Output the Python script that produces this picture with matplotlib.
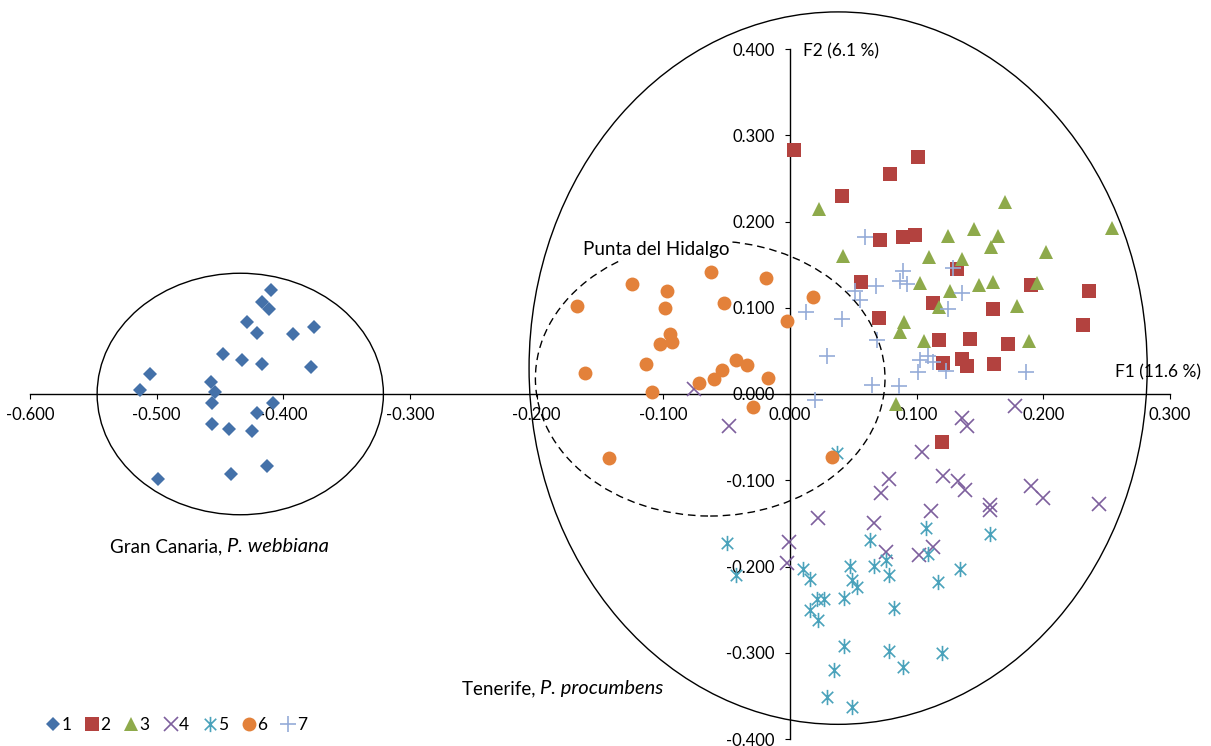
import matplotlib
matplotlib.use("Agg")
import matplotlib.pyplot as plt
from matplotlib.patches import Ellipse
from matplotlib.path import Path

plt.rcParams['font.family'] = ['Lato', 'DejaVu Sans']

# PCA scores (F1, F2) per group
f1_g1 = [-0.410, -0.417, -0.411, -0.429, -0.421, -0.392, -0.376, -0.448, -0.433, -0.417, -0.378, -0.505,
         -0.513, -0.457, -0.454, -0.456, -0.408, -0.421, -0.456, -0.443, -0.425, -0.413, -0.441, -0.499]
f2_g1 = [0.121, 0.107, 0.098, 0.083, 0.071, 0.070, 0.078, 0.046, 0.039, 0.035, 0.031, 0.023,
         0.005, 0.014, 0.002, -0.010, -0.011, -0.022, -0.035, -0.041, -0.043, -0.084, -0.093, -0.098]

f1_g2 = [0.003, 0.101, 0.079, 0.041, 0.071, 0.089, 0.099, 0.132, 0.190, 0.236, 0.056, 0.113,
         0.160, 0.070, 0.118, 0.142, 0.172, 0.231, 0.121, 0.136, 0.140, 0.161, 0.120]
f2_g2 = [0.283, 0.275, 0.255, 0.229, 0.179, 0.182, 0.184, 0.145, 0.126, 0.120, 0.130, 0.105,
         0.098, 0.088, 0.063, 0.064, 0.058, 0.080, 0.036, 0.041, 0.032, 0.035, -0.056]

f1_g3 = [0.170, 0.023, 0.145, 0.125, 0.164, 0.254, 0.202, 0.159, 0.042, 0.110, 0.136, 0.103,
         0.149, 0.160, 0.195, 0.126, 0.118, 0.179, 0.090, 0.087, 0.106, 0.189, 0.084]
f2_g3 = [0.223, 0.214, 0.191, 0.183, 0.183, 0.193, 0.165, 0.170, 0.160, 0.159, 0.156, 0.129,
         0.126, 0.130, 0.129, 0.119, 0.101, 0.102, 0.084, 0.072, 0.061, 0.062, -0.012]

f1_g4 = [-0.076, -0.048, 0.104, 0.078, 0.072, 0.022, 0.066, -0.001, -0.002, 0.076, 0.102, 0.113,
         0.178, 0.136, 0.140, 0.121, 0.133, 0.138, 0.190, 0.200, 0.244, 0.158, 0.158, 0.111]
f2_g4 = [0.006, -0.037, -0.067, -0.098, -0.115, -0.144, -0.149, -0.172, -0.196, -0.183, -0.187, -0.177,
         -0.014, -0.028, -0.037, -0.095, -0.101, -0.111, -0.107, -0.121, -0.128, -0.129, -0.134, -0.136]

f1_g5 = [0.037, -0.050, -0.043, 0.063, 0.107, 0.109, 0.158, 0.134, 0.117, 0.010, 0.016, 0.047,
         0.049, 0.053, 0.066, 0.076, 0.078, 0.021, 0.027, 0.043, 0.016, 0.022, 0.082, 0.043,
         0.078, 0.120, 0.089, 0.035, 0.029, 0.049]
f2_g5 = [-0.068, -0.173, -0.210, -0.169, -0.155, -0.185, -0.162, -0.203, -0.218, -0.203, -0.214, -0.199,
         -0.216, -0.224, -0.199, -0.193, -0.210, -0.238, -0.238, -0.236, -0.250, -0.262, -0.248, -0.292,
         -0.298, -0.300, -0.316, -0.320, -0.351, -0.363]

f1_g6 = [-0.062, -0.019, -0.125, -0.097, -0.168, -0.099, -0.052, -0.002, 0.018, -0.095, -0.103, -0.093,
         -0.114, -0.162, -0.043, -0.034, -0.054, -0.060, -0.017, -0.072, -0.109, -0.029, -0.143, 0.033]
f2_g6 = [0.141, 0.134, 0.128, 0.120, 0.102, 0.100, 0.106, 0.085, 0.112, 0.069, 0.058, 0.060,
         0.035, 0.024, 0.039, 0.034, 0.028, 0.017, 0.019, 0.013, 0.002, -0.015, -0.074, -0.073]

f1_g7 = [0.059, 0.089, 0.129, 0.068, 0.087, 0.092, 0.051, 0.055, 0.136, 0.125, 0.013, 0.041,
         0.069, 0.029, 0.103, 0.109, 0.113, 0.123, 0.101, 0.065, 0.086, 0.020, 0.186]
f2_g7 = [0.182, 0.143, 0.146, 0.125, 0.131, 0.128, 0.119, 0.109, 0.117, 0.099, 0.095, 0.087,
         0.063, 0.044, 0.040, 0.044, 0.037, 0.027, 0.025, 0.011, 0.009, -0.007, 0.026]

group_labels = ['1', '2', '3', '4', '5', '6', '7']
x_ticks = [-0.6, -0.5, -0.4, -0.3, -0.2, -0.1, 0.0, 0.1, 0.2, 0.3]
y_ticks = [-0.4, -0.3, -0.2, -0.1, 0.0, 0.1, 0.2, 0.3, 0.4]

# six-armed asterisk (X plus vertical bar)
asterisk = Path([(0, -1), (0, 1), (-0.75, -0.75), (0.75, 0.75), (-0.75, 0.75), (0.75, -0.75)],
                [Path.MOVETO, Path.LINETO] * 3)

styles = [
    dict(marker='D', ms=7.2, color='#4471A9', mew=0),
    dict(marker='s', ms=9.5, color='#B3423F', mew=0),
    dict(marker='^', ms=10.5, color='#8EAA4B', mew=0),
    dict(marker='x', ms=9.5, color='#7D5F9D', mew=1.2),
    dict(marker=asterisk, ms=11, color='#4AA2BB', mew=1.2),
    dict(marker='o', ms=10, color='#E3813A', mew=0),
    dict(marker='+', ms=11, color='#95ABD8', mew=1.2),
]
series = [(f1_g1, f2_g1), (f1_g2, f2_g2), (f1_g3, f2_g3), (f1_g4, f2_g4),
          (f1_g5, f2_g5), (f1_g6, f2_g6), (f1_g7, f2_g7)]

fig = plt.figure(figsize=(12.11, 7.46), dpi=100)
ax = fig.add_axes([30 / 1211, 7 / 746, 1140 / 1211, 690 / 746])
ax.set_xlim(-0.6, 0.3)
ax.set_ylim(-0.4, 0.4)

handles = []
for (xs, ys), st, lab in zip(series, styles, group_labels):
    h, = ax.plot(xs, ys, linestyle='none', label=lab, zorder=3, **st)
    handles.append(h)

# axes crossing at the origin
for side in ['top', 'right']:
    ax.spines[side].set_visible(False)
ax.spines['left'].set_position(('data', 0))
ax.spines['bottom'].set_position(('data', 0))
for side in ['left', 'bottom']:
    ax.spines[side].set_linewidth(1.0)
ax.set_xticks(x_ticks)
ax.set_yticks(y_ticks)
ax.set_xticklabels([f'{v:.3f}' for v in x_ticks])
ax.set_yticklabels([f'{v:.3f}' for v in y_ticks])
ax.tick_params(axis='x', direction='out', length=3.6, width=0.8, pad=5.5, labelsize=12)
ax.tick_params(axis='y', direction='out', length=3.6, width=0.8, pad=7.5, labelsize=12)

# group outlines
outline = dict(fill=False, lw=1.0, ec='black', zorder=4, clip_on=False)
ax.add_patch(Ellipse((-0.434, 0.0), 0.226, 0.28, **outline))
ax.add_patch(Ellipse((0.038, 0.030), 0.488, 0.826, **outline))
ax.add_patch(Ellipse((-0.063, 0.018), 0.276, 0.319, ls=(0, (5.5, 3.5)), **outline))

ax.text(-0.1634, 0.168, 'Punta del Hidalgo', fontsize=13.5, va='center', ha='left', zorder=5,
        bbox=dict(fc='white', ec='none', pad=1.5))
t1 = ax.text(-0.5367, -0.1773, 'Gran Canaria, ', fontsize=13.5, va='center', ha='left')
ax.annotate('P. webbiana', xy=(1, 0), xycoords=t1, va='bottom', ha='left',
            fontsize=14.5, style='italic')
t2 = ax.text(-0.2589, -0.3418, 'Tenerife, ', fontsize=13.5, va='center', ha='left')
ax.annotate('P. procumbens', xy=(1, 0), xycoords=t2, va='bottom', ha='left',
            fontsize=14.5, style='italic')
ax.text(0.2565, 0.0255, 'F1 (11.6 %)', fontsize=12.5, va='center', ha='left')
ax.text(0.0103, 0.3978, 'F2 (6.1 %)', fontsize=12.5, va='center', ha='left')

fig.legend(handles, group_labels, loc='center left', bbox_to_anchor=(46 / 1211, 21 / 746),
           ncol=7, frameon=False, fontsize=12.5, handlelength=0.8, handletextpad=0.08,
           columnspacing=0.8, borderpad=0, borderaxespad=0)

fig.savefig('out.png', dpi=100)
